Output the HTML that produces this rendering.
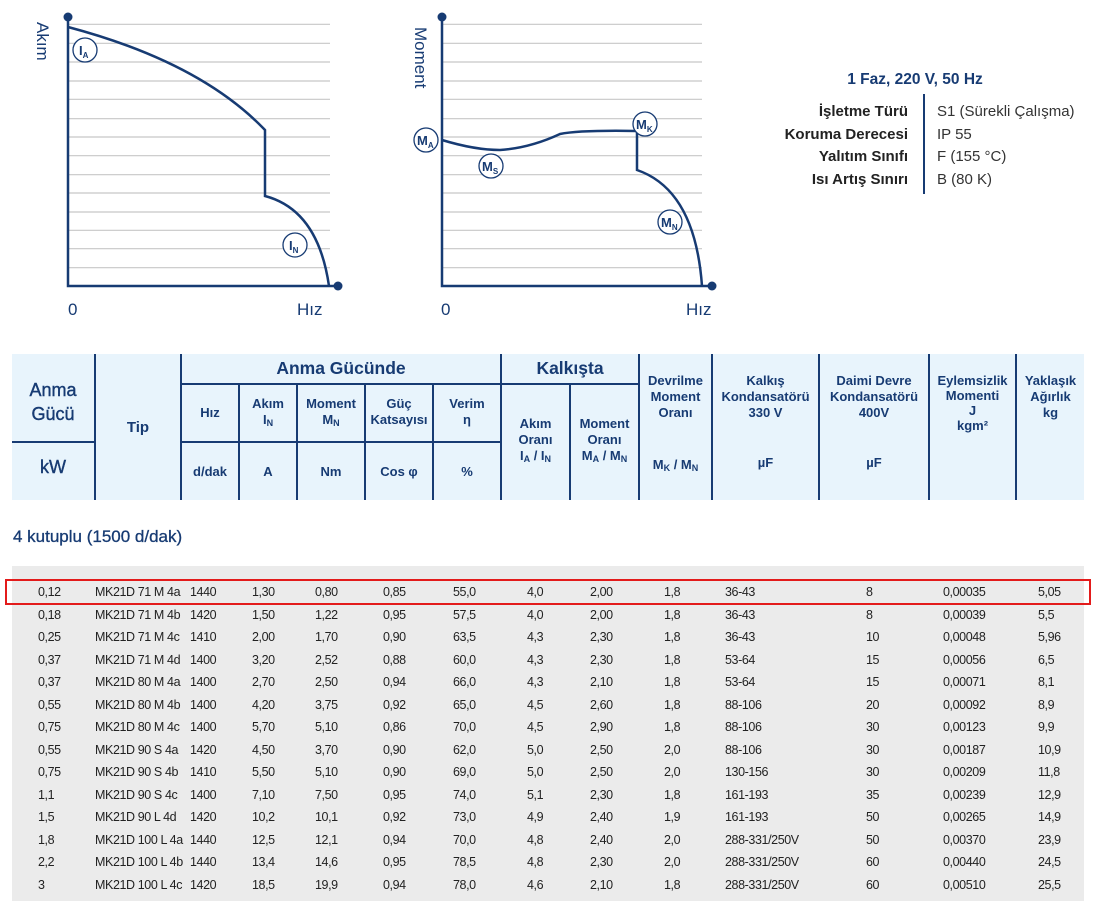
<!DOCTYPE html>
<html><head><meta charset="utf-8"><style>
body{margin:0;width:1095px;height:915px;background:#fff;position:relative;overflow:hidden;font-family:"Liberation Sans",sans-serif}
.a{position:absolute}
.h{position:absolute;color:#173b73;font-weight:bold;font-size:13px;text-align:center;line-height:16px}
.vl{position:absolute;background:#173b73;width:2px}
.hl{position:absolute;background:#173b73;height:2px}
.r{position:absolute;left:0;width:1095px;height:22px;font-size:12.5px;color:#222;letter-spacing:-0.4px}
.r span{position:absolute;top:3px}
sub{font-size:9px;vertical-align:-2px}
</style></head><body>
<svg class="a" style="left:0;top:0" width="1095" height="330">
<g stroke="#c8c8c8" stroke-width="1.2">
<path d="M68 24.3H330M68 43.3H330M68 62H330M68 81H330M68 99.3H330M68 118.7H330M68 137H330M68 155.7H330M68 174.7H330M68 193H330M68 212H330M68 230.3H330M68 248.7H330M68 267.7H330"/>
<path d="M442 24.3H702M442 43.3H702M442 62H702M442 81H702M442 99.3H702M442 118.7H702M442 137H702M442 155.7H702M442 174.7H702M442 193H702M442 212H702M442 230.3H702M442 248.7H702M442 267.7H702"/>
</g>
<g stroke="#173b73" stroke-width="2.5" fill="none">
<path d="M68 17V286H338"/>
<path d="M68 27Q200 62 265 130V196Q318 210 329 286"/>
<path d="M442 17V286H712"/>
<path d="M442 140Q475 150 500 150Q530 148 560 134Q580 130 637 131V170Q695 190 702 286"/>
</g>
<g fill="#173b73"><circle cx="68" cy="17" r="4.5"/><circle cx="338" cy="286" r="4.5"/><circle cx="442" cy="17" r="4.5"/><circle cx="712" cy="286" r="4.5"/></g>
<g stroke="#173b73" stroke-width="1.3" fill="#fff">
<circle cx="85" cy="50" r="12"/><circle cx="295" cy="245" r="12"/>
<circle cx="426" cy="140" r="12"/><circle cx="491" cy="166" r="12"/><circle cx="645" cy="124" r="12"/><circle cx="670" cy="222" r="12"/>
</g>
<g fill="#173b73" font-family="Liberation Sans" font-weight="bold" font-size="13">
<text x="79" y="55">I<tspan font-size="8" dy="3">A</tspan></text>
<text x="289" y="250">I<tspan font-size="8" dy="3">N</tspan></text>
<text x="417" y="145">M<tspan font-size="8" dy="3">A</tspan></text>
<text x="482" y="171">M<tspan font-size="8" dy="3">S</tspan></text>
<text x="636" y="129">M<tspan font-size="8" dy="3">K</tspan></text>
<text x="661" y="227">M<tspan font-size="8" dy="3">N</tspan></text>
</g>
<g fill="#173b73" font-family="Liberation Sans" font-size="17">
<text x="68" y="315">0</text><text x="297" y="315">Hız</text>
<text x="441" y="315">0</text><text x="686" y="315">Hız</text>
<text transform="translate(37,22) rotate(90)">Akım</text>
<text transform="translate(415,27) rotate(90)">Moment</text>
</g>
</svg>
<div class="h" style="left:800px;top:72px;width:230px;font-size:15.5px">1 Faz, 220 V, 50 Hz</div>
<div class="vl" style="left:923px;top:94px;height:100px"></div>
<div class="a" style="left:698px;top:101px;width:210px;text-align:right;font-size:15px;line-height:22.5px;color:#222;font-weight:bold">İşletme Türü<br>Koruma Derecesi<br>Yalıtım Sınıfı<br>Isı Artış Sınırı</div>
<div class="a" style="left:937px;top:101px;font-size:15px;line-height:22.5px;color:#333">S1 (Sürekli Çalışma)<br>IP 55<br>F (155 °C)<br>B (80 K)</div>

<div class="a" style="left:12px;top:354px;width:1072px;height:146px;background:#e8f4fc"></div>
<div class="vl" style="left:94px;top:354px;height:146px"></div>
<div class="vl" style="left:180px;top:354px;height:146px"></div>
<div class="vl" style="left:238px;top:384px;height:116px"></div>
<div class="vl" style="left:296px;top:384px;height:116px"></div>
<div class="vl" style="left:364px;top:384px;height:116px"></div>
<div class="vl" style="left:432px;top:384px;height:116px"></div>
<div class="vl" style="left:500px;top:354px;height:146px"></div>
<div class="vl" style="left:569px;top:384px;height:116px"></div>
<div class="vl" style="left:638px;top:354px;height:146px"></div>
<div class="vl" style="left:711px;top:354px;height:146px"></div>
<div class="vl" style="left:818px;top:354px;height:146px"></div>
<div class="vl" style="left:928px;top:354px;height:146px"></div>
<div class="vl" style="left:1015px;top:354px;height:146px"></div>
<div class="hl" style="left:12px;top:441px;width:82px"></div>
<div class="hl" style="left:180px;top:383px;width:458px"></div>
<div class="hl" style="left:180px;top:441px;width:320px"></div>
<div class="h" style="left:12px;top:378px;width:82px;font-size:18px;line-height:24px;font-weight:normal;-webkit-text-stroke:0.4px #173b73">Anma<br>Gücü</div>
<div class="h" style="left:12px;top:459px;width:82px;font-size:18px;font-weight:normal;-webkit-text-stroke:0.4px #173b73">kW</div>
<div class="h" style="left:96px;top:420px;width:84px;font-size:15px">Tip</div>
<div class="h" style="left:182px;top:358px;width:318px;font-size:17.5px;line-height:20px">Anma Gücünde</div>
<div class="h" style="left:502px;top:358px;width:136px;font-size:17.5px;line-height:20px">Kalkışta</div>
<div class="h" style="left:182px;top:405px;width:56px">Hız</div>
<div class="h" style="left:240px;top:396px;width:56px">Akım<br>I<sub>N</sub></div>
<div class="h" style="left:298px;top:396px;width:66px">Moment<br>M<sub>N</sub></div>
<div class="h" style="left:366px;top:396px;width:66px">Güç<br>Katsayısı</div>
<div class="h" style="left:434px;top:396px;width:66px">Verim<br>η</div>
<div class="h" style="left:182px;top:464px;width:56px">d/dak</div>
<div class="h" style="left:240px;top:464px;width:56px">A</div>
<div class="h" style="left:298px;top:464px;width:66px">Nm</div>
<div class="h" style="left:366px;top:464px;width:66px">Cos φ</div>
<div class="h" style="left:434px;top:464px;width:66px">%</div>
<div class="h" style="left:502px;top:416px;width:67px">Akım<br>Oranı<br>I<sub>A</sub> / I<sub>N</sub></div>
<div class="h" style="left:571px;top:416px;width:67px">Moment<br>Oranı<br>M<sub>A</sub> / M<sub>N</sub></div>
<div class="h" style="left:640px;top:373px;width:71px">Devrilme<br>Moment<br>Oranı</div>
<div class="h" style="left:640px;top:457px;width:71px">M<sub>K</sub> / M<sub>N</sub></div>
<div class="h" style="left:713px;top:373px;width:105px">Kalkış<br>Kondansatörü<br>330 V</div>
<div class="h" style="left:713px;top:455px;width:105px">µF</div>
<div class="h" style="left:820px;top:373px;width:108px">Daimi Devre<br>Kondansatörü<br>400V</div>
<div class="h" style="left:820px;top:455px;width:108px">µF</div>
<div class="h" style="left:930px;top:373px;width:85px;line-height:15px">Eylemsizlik<br>Momenti<br>J<br>kgm²</div>
<div class="h" style="left:1017px;top:373px;width:67px">Yaklaşık<br>Ağırlık<br>kg</div>

<div class="a" style="left:13px;top:527px;font-size:17px;color:#173b73;-webkit-text-stroke:0.3px #173b73">4 kutuplu (1500 d/dak)</div>
<div class="a" style="left:12px;top:566px;width:1072px;height:335px;background:#ebebeb"></div>
<div class="a" style="left:5px;top:579px;width:1082px;height:22px;border:2.5px solid #e31b1b"></div>
<div class="r" style="top:582px"><span style="left:38px">0,12</span><span style="left:95px">MK21D 71 M 4a</span><span style="left:190px">1440</span><span style="left:252px">1,30</span><span style="left:315px">0,80</span><span style="left:383px">0,85</span><span style="left:453px">55,0</span><span style="left:527px">4,0</span><span style="left:590px">2,00</span><span style="left:664px">1,8</span><span style="left:725px">36-43</span><span style="left:866px">8</span><span style="left:943px">0,00035</span><span style="left:1038px">5,05</span></div>
<div class="r" style="top:604.5px"><span style="left:38px">0,18</span><span style="left:95px">MK21D 71 M 4b</span><span style="left:190px">1420</span><span style="left:252px">1,50</span><span style="left:315px">1,22</span><span style="left:383px">0,95</span><span style="left:453px">57,5</span><span style="left:527px">4,0</span><span style="left:590px">2,00</span><span style="left:664px">1,8</span><span style="left:725px">36-43</span><span style="left:866px">8</span><span style="left:943px">0,00039</span><span style="left:1038px">5,5</span></div>
<div class="r" style="top:627px"><span style="left:38px">0,25</span><span style="left:95px">MK21D 71 M 4c</span><span style="left:190px">1410</span><span style="left:252px">2,00</span><span style="left:315px">1,70</span><span style="left:383px">0,90</span><span style="left:453px">63,5</span><span style="left:527px">4,3</span><span style="left:590px">2,30</span><span style="left:664px">1,8</span><span style="left:725px">36-43</span><span style="left:866px">10</span><span style="left:943px">0,00048</span><span style="left:1038px">5,96</span></div>
<div class="r" style="top:649.5px"><span style="left:38px">0,37</span><span style="left:95px">MK21D 71 M 4d</span><span style="left:190px">1400</span><span style="left:252px">3,20</span><span style="left:315px">2,52</span><span style="left:383px">0,88</span><span style="left:453px">60,0</span><span style="left:527px">4,3</span><span style="left:590px">2,30</span><span style="left:664px">1,8</span><span style="left:725px">53-64</span><span style="left:866px">15</span><span style="left:943px">0,00056</span><span style="left:1038px">6,5</span></div>
<div class="r" style="top:672px"><span style="left:38px">0,37</span><span style="left:95px">MK21D 80 M 4a</span><span style="left:190px">1400</span><span style="left:252px">2,70</span><span style="left:315px">2,50</span><span style="left:383px">0,94</span><span style="left:453px">66,0</span><span style="left:527px">4,3</span><span style="left:590px">2,10</span><span style="left:664px">1,8</span><span style="left:725px">53-64</span><span style="left:866px">15</span><span style="left:943px">0,00071</span><span style="left:1038px">8,1</span></div>
<div class="r" style="top:694.5px"><span style="left:38px">0,55</span><span style="left:95px">MK21D 80 M 4b</span><span style="left:190px">1400</span><span style="left:252px">4,20</span><span style="left:315px">3,75</span><span style="left:383px">0,92</span><span style="left:453px">65,0</span><span style="left:527px">4,5</span><span style="left:590px">2,60</span><span style="left:664px">1,8</span><span style="left:725px">88-106</span><span style="left:866px">20</span><span style="left:943px">0,00092</span><span style="left:1038px">8,9</span></div>
<div class="r" style="top:717px"><span style="left:38px">0,75</span><span style="left:95px">MK21D 80 M 4c</span><span style="left:190px">1400</span><span style="left:252px">5,70</span><span style="left:315px">5,10</span><span style="left:383px">0,86</span><span style="left:453px">70,0</span><span style="left:527px">4,5</span><span style="left:590px">2,90</span><span style="left:664px">1,8</span><span style="left:725px">88-106</span><span style="left:866px">30</span><span style="left:943px">0,00123</span><span style="left:1038px">9,9</span></div>
<div class="r" style="top:739.5px"><span style="left:38px">0,55</span><span style="left:95px">MK21D 90 S 4a</span><span style="left:190px">1420</span><span style="left:252px">4,50</span><span style="left:315px">3,70</span><span style="left:383px">0,90</span><span style="left:453px">62,0</span><span style="left:527px">5,0</span><span style="left:590px">2,50</span><span style="left:664px">2,0</span><span style="left:725px">88-106</span><span style="left:866px">30</span><span style="left:943px">0,00187</span><span style="left:1038px">10,9</span></div>
<div class="r" style="top:762px"><span style="left:38px">0,75</span><span style="left:95px">MK21D 90 S 4b</span><span style="left:190px">1410</span><span style="left:252px">5,50</span><span style="left:315px">5,10</span><span style="left:383px">0,90</span><span style="left:453px">69,0</span><span style="left:527px">5,0</span><span style="left:590px">2,50</span><span style="left:664px">2,0</span><span style="left:725px">130-156</span><span style="left:866px">30</span><span style="left:943px">0,00209</span><span style="left:1038px">11,8</span></div>
<div class="r" style="top:784.5px"><span style="left:38px">1,1</span><span style="left:95px">MK21D 90 S 4c</span><span style="left:190px">1400</span><span style="left:252px">7,10</span><span style="left:315px">7,50</span><span style="left:383px">0,95</span><span style="left:453px">74,0</span><span style="left:527px">5,1</span><span style="left:590px">2,30</span><span style="left:664px">1,8</span><span style="left:725px">161-193</span><span style="left:866px">35</span><span style="left:943px">0,00239</span><span style="left:1038px">12,9</span></div>
<div class="r" style="top:807px"><span style="left:38px">1,5</span><span style="left:95px">MK21D 90 L 4d</span><span style="left:190px">1420</span><span style="left:252px">10,2</span><span style="left:315px">10,1</span><span style="left:383px">0,92</span><span style="left:453px">73,0</span><span style="left:527px">4,9</span><span style="left:590px">2,40</span><span style="left:664px">1,9</span><span style="left:725px">161-193</span><span style="left:866px">50</span><span style="left:943px">0,00265</span><span style="left:1038px">14,9</span></div>
<div class="r" style="top:829.5px"><span style="left:38px">1,8</span><span style="left:95px">MK21D 100 L 4a</span><span style="left:190px">1440</span><span style="left:252px">12,5</span><span style="left:315px">12,1</span><span style="left:383px">0,94</span><span style="left:453px">70,0</span><span style="left:527px">4,8</span><span style="left:590px">2,40</span><span style="left:664px">2,0</span><span style="left:725px">288-331/250V</span><span style="left:866px">50</span><span style="left:943px">0,00370</span><span style="left:1038px">23,9</span></div>
<div class="r" style="top:852px"><span style="left:38px">2,2</span><span style="left:95px">MK21D 100 L 4b</span><span style="left:190px">1440</span><span style="left:252px">13,4</span><span style="left:315px">14,6</span><span style="left:383px">0,95</span><span style="left:453px">78,5</span><span style="left:527px">4,8</span><span style="left:590px">2,30</span><span style="left:664px">2,0</span><span style="left:725px">288-331/250V</span><span style="left:866px">60</span><span style="left:943px">0,00440</span><span style="left:1038px">24,5</span></div>
<div class="r" style="top:874.5px"><span style="left:38px">3</span><span style="left:95px">MK21D 100 L 4c</span><span style="left:190px">1420</span><span style="left:252px">18,5</span><span style="left:315px">19,9</span><span style="left:383px">0,94</span><span style="left:453px">78,0</span><span style="left:527px">4,6</span><span style="left:590px">2,10</span><span style="left:664px">1,8</span><span style="left:725px">288-331/250V</span><span style="left:866px">60</span><span style="left:943px">0,00510</span><span style="left:1038px">25,5</span></div>
</body></html>
